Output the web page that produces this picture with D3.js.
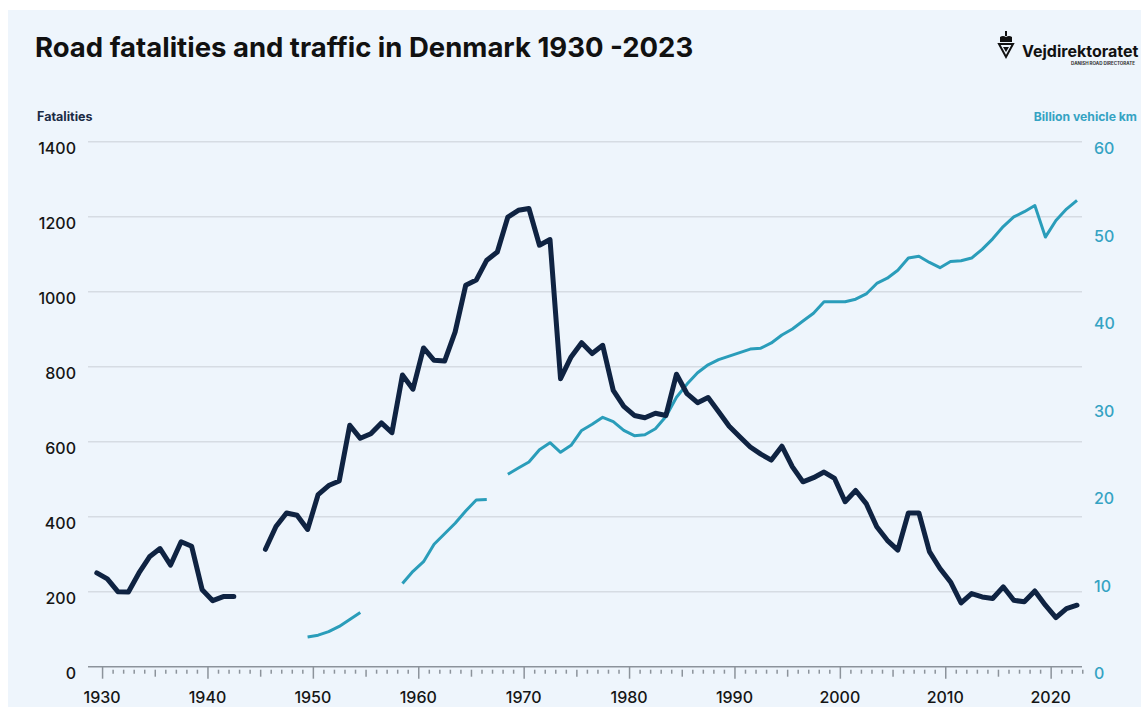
<!DOCTYPE html>
<html>
<head>
<meta charset="utf-8">
<script src="https://cdn.jsdelivr.net/npm/d3@7"></script>
<style>
  body { margin: 0; background: #fff; }
  svg { display: block; font-family: Inter, "Open Sans", sans-serif; }
</style>
</head>
<body>
<div class="chart"></div>
<script>
// years 1930-2023
const years = d3.range(1930, 2024)

// road fatalities (null = no data)
const fatalities = [
  250, 234, 200, 199, 250, 293, 315, 271, 333, 321,
  205, 176, 187, 187, null, null, 313, 374, 410, 404,
  366, 459, 483, 495, 644, 609, 621, 650, 624, 778,
  740, 850, 817, 815, 893, 1017, 1031, 1084, 1106, 1199,
  1217, 1222, 1124, 1139, 768, 826, 864, 835, 857, 737,
  694, 670, 664, 676, 670, 780, 728, 704, 718, 680,
  641, 613, 586, 567, 551, 588, 533, 493, 504, 519,
  502, 440, 470, 435, 373, 337, 311, 410, 410, 307,
  262, 226, 170, 195, 186, 182, 213, 177, 173, 202,
  164, 131, 155, 164
]

// traffic, billion vehicle km (null = no data)
const traffic = [
  null, null, null, null, null, null, null, null, null, null,
  null, null, null, null, null, null, null, null, null, null,
  3.4, 3.6, 4.0, 4.6, 5.4, 6.2, null, null, null, 9.5,
  10.9, 12.0, 14.0, 15.2, 16.4, 17.8, 19.05, 19.1, null, 22.0,
  22.7, 23.4, 24.8, 25.6, 24.5, 25.3, 27.0, 27.7, 28.5, 28.0,
  27.0, 26.4, 26.5, 27.2, 28.6, 30.8, 32.3, 33.6, 34.5, 35.1,
  35.5, 35.9, 36.3, 36.4, 37.0, 37.9, 38.6, 39.5, 40.4, 41.7,
  41.7, 41.7, 42.0, 42.6, 43.8, 44.4, 45.3, 46.7, 46.9, 46.2,
  45.6, 46.3, 46.4, 46.7, 47.7, 48.9, 50.3, 51.4, 52.0, 52.7,
  49.1, 51.0, 52.3, 53.3
]

const leftTicks = [0, 200, 400, 600, 800, 1000, 1200, 1400]
const rightTicks = [0, 10, 20, 30, 40, 50, 60]
const decadeLabels = [1930, 1940, 1950, 1960, 1970, 1980, 1990, 2000, 2010, 2020]

const W = 1141, H = 715
const navy = '#0f2342'
const teal = '#2a9dba'

const svg = d3.select('.chart')
  .append('svg')
  .attr('width', W)
  .attr('height', H)

// panel
svg.append('rect')
  .attr('x', 8).attr('y', 10)
  .attr('width', W - 8).attr('height', 697)
  .attr('fill', '#eef5fc')

const x = d3.scaleLinear().domain([1930, 2023]).range([96.8, 1077])
// ticks sit half a year right of the data points
const xAxisScale = d3.scaleLinear().domain([1929.5, 2022.5]).range([96.8, 1077])
const yL = d3.scaleLinear().domain([0, 1400]).range([666.7, 141.7])
const yR = d3.scaleLinear().domain([0, 60]).range([666.7, 141.7])

// gridlines
svg.append('g')
  .selectAll('line')
  .data(leftTicks.filter(d => d > 0))
  .enter()
  .append('line')
  .attr('x1', 88).attr('x2', 1082)
  .attr('y1', d => yL(d)).attr('y2', d => yL(d))
  .attr('stroke', '#d6dce3')
  .attr('stroke-width', 1.5)

// left labels
svg.append('g')
  .selectAll('text')
  .data(leftTicks)
  .enter()
  .append('text')
  .attr('x', 76)
  .attr('y', d => yL(d) + 7)
  .attr('dy', '0.35em')
  .attr('text-anchor', 'end')
  .attr('font-size', 16)
  .attr('font-weight', 500)
  .attr('fill', '#151515')
  .text(d => d)

// right labels
svg.append('g')
  .selectAll('text')
  .data(rightTicks)
  .enter()
  .append('text')
  .attr('x', 1094)
  .attr('y', d => yR(d) + 7)
  .attr('dy', '0.35em')
  .attr('font-size', 16)
  .attr('font-weight', 500)
  .attr('fill', '#35a3c3')
  .text(d => d)

// x axis
svg.append('line')
  .attr('x1', 88).attr('x2', 1082)
  .attr('y1', 666.7).attr('y2', 666.7)
  .attr('stroke', '#8c939b')
  .attr('stroke-width', 1.5)

const xAxis = d3.axisBottom(xAxisScale)
  .tickValues(years)
  .tickSize(0)
  .tickFormat('')

const gx = svg.append('g')
  .attr('transform', 'translate(0,666.7)')
  .call(xAxis)
gx.select('.domain').remove()
gx.selectAll('.tick line')
  .attr('stroke', '#8c939b')
  .attr('stroke-width', 1.5)
  .attr('y1', d => d % 10 === 0 ? 0 : 3)
  .attr('y2', d => d % 10 === 0 ? 12 : (d % 5 === 0 ? 10 : 7))

svg.append('g')
  .selectAll('text')
  .data(decadeLabels)
  .enter()
  .append('text')
  .attr('x', d => xAxisScale(d))
  .attr('y', 697)
  .attr('dy', '0.35em')
  .attr('text-anchor', 'middle')
  .attr('font-size', 16)
  .attr('font-weight', 500)
  .attr('fill', '#151515')
  .text(d => d)

// lines
const lineF = d3.line()
  .defined(d => d.v != null)
  .x(d => x(d.year))
  .y(d => yL(d.v))

const lineT = d3.line()
  .defined(d => d.v != null)
  .x(d => x(d.year))
  .y(d => yR(d.v))

svg.append('path')
  .datum(years.map((y, i) => ({year: y, v: traffic[i]})))
  .attr('d', lineT)
  .attr('fill', 'none')
  .attr('stroke', teal)
  .attr('stroke-width', 3)
  .attr('stroke-linejoin', 'round')

svg.append('path')
  .datum(years.map((y, i) => ({year: y, v: fatalities[i]})))
  .attr('d', lineF)
  .attr('fill', 'none')
  .attr('stroke', navy)
  .attr('stroke-width', 5)
  .attr('stroke-linejoin', 'round')
  .attr('stroke-linecap', 'round')

// title and axis titles
svg.append('text')
  .attr('x', 35).attr('y', 57)
  .attr('font-size', 27.5)
  .attr('font-weight', 700)
  .attr('fill', '#111')
  .text('Road fatalities and traffic in Denmark 1930 -2023')

svg.append('text')
  .attr('x', 37).attr('y', 121)
  .attr('font-size', 12.5)
  .attr('font-weight', 700)
  .attr('fill', '#1c2b45')
  .text('Fatalities')

svg.append('text')
  .attr('x', 1137).attr('y', 121)
  .attr('text-anchor', 'end')
  .attr('font-size', 12.2)
  .attr('font-weight', 700)
  .attr('fill', '#35a3c3')
  .text('Billion vehicle km')

// logo
const logo = svg.append('g')
logo.append('path')
  .attr('d', 'M999,44 L1013,44 L1006,57 Z')
  .attr('fill', 'none').attr('stroke', '#111').attr('stroke-width', 2)
logo.append('path')
  .attr('d', 'M1003,47 L1009,47 L1006,52 Z')
  .attr('fill', '#111')
logo.append('path')
  .attr('d', 'M1000,42 L1000,37 Q1003,35 1006,37 Q1009,35 1012,37 L1012,42 Z')
  .attr('fill', '#111')
logo.append('rect')
  .attr('x', 1005).attr('y', 31).attr('width', 2).attr('height', 5)
  .attr('fill', '#111')
logo.append('text')
  .attr('x', 1022).attr('y', 57)
  .attr('font-size', 16)
  .attr('font-weight', 700)
  .attr('fill', '#111')
  .text('Vejdirektoratet')
logo.append('text')
  .attr('x', 1135).attr('y', 65)
  .attr('text-anchor', 'end')
  .attr('font-size', 4.5)
  .attr('font-weight', 700)
  .attr('fill', '#333')
  .text('DANISH ROAD DIRECTORATE')
</script>
</body>
</html>
